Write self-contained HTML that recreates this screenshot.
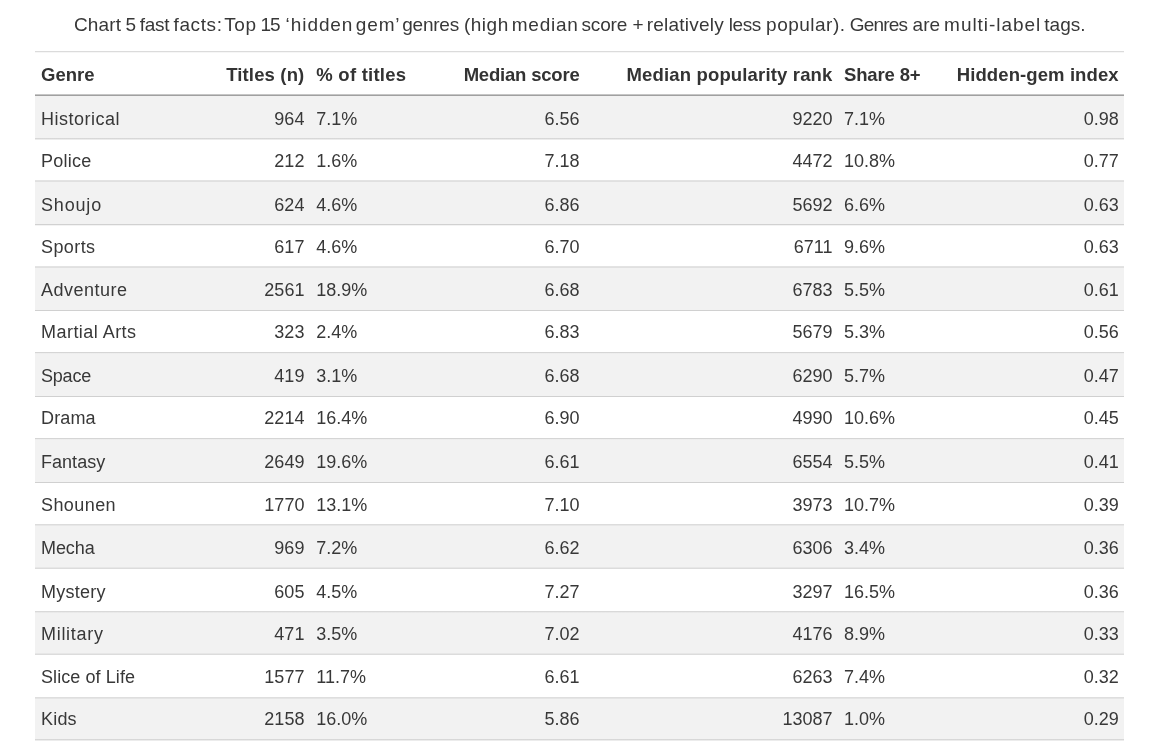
<!DOCTYPE html>
<html lang="en">
<head>
<meta charset="utf-8">
<title>Chart 5 fast facts</title>
<style>
html,body{margin:0;padding:0;background:#fff;}
body{width:1152px;height:756px;position:relative;overflow:hidden;font-family:"Liberation Sans",sans-serif;color:#383838;}
.cap{will-change:transform;position:absolute;left:0;top:13px;width:1152px;height:24px;font-size:19px;line-height:24px;white-space:nowrap;}
.cap span{position:absolute;top:0;}
.tbl{will-change:transform;position:absolute;left:35px;top:51px;width:1089px;height:700px;font-size:18px;}
.hr,.tr{display:flex;box-sizing:border-box;white-space:nowrap;}
.hr{color:#333;height:45px;border-top:1px solid #dbdbdb;border-bottom:1px solid #a0a0a0;box-shadow:inset 0 1px 0 #f6f6f6,inset 0 -1px 0 #c6c6c6;font-weight:bold;font-size:18.5px;line-height:41px;padding-top:2.1px;}
.tr{position:absolute;left:0;width:1089px;height:24px;line-height:24px;}
.sp{position:absolute;left:0;width:1089px;background:#f2f2f2;}
.bd{position:absolute;left:0;width:1089px;height:2px;}
.c{box-sizing:border-box;flex:none;overflow:visible;}
.c1{width:180px;padding-left:6px;}
.c2{width:95px;padding-right:5.6px;}
.c3{width:140px;padding-left:6.3px;}
.c4{width:135px;padding-right:5.5px;}
.c5{width:253px;padding-right:5.5px;}
.c6{width:107px;padding-left:6px;}
.c7{width:179px;padding-right:5.3px;}
.l{text-align:left}.r{text-align:right}
.hr .c2 span{letter-spacing:0.15px}
.hr .c3 span{letter-spacing:0.24px}
.hr .c4 span{letter-spacing:-0.2px}
.hr .c5 span{letter-spacing:0.16px}
.hr .c6 span{letter-spacing:-0.15px}
.hr .c7 span{letter-spacing:0.1px}

</style>
</head>
<body>
<div class="cap"><span style="left:74.0px;letter-spacing:0.133px">Chart</span> <span style="left:125.45px;letter-spacing:0.0px">5</span> <span style="left:139.69px;letter-spacing:-0.277px">fast</span> <span style="left:173.54px;letter-spacing:0.599px">facts:</span> <span style="left:224.22px;letter-spacing:0.559px">Top</span> <span style="left:260.47px;letter-spacing:-0.966px">15</span> <span style="left:285.61px;letter-spacing:0.923px">‘hidden</span> <span style="left:355.87px;letter-spacing:0.834px">gem’</span> <span style="left:402.22px;letter-spacing:-0.234px">genres</span> <span style="left:463.95px;letter-spacing:0.511px">(high</span> <span style="left:511.71px;letter-spacing:0.765px">median</span> <span style="left:581.47px;letter-spacing:-0.158px">score</span> <span style="left:632.42px;letter-spacing:0.0px">+</span> <span style="left:646.65px;letter-spacing:0.23px">relatively</span> <span style="left:728.82px;letter-spacing:-0.438px">less</span> <span style="left:766.08px;letter-spacing:0.494px">popular).</span> <span style="left:849.7px;letter-spacing:-0.788px">Genres</span> <span style="left:912.6px;letter-spacing:-0.022px">are</span> <span style="left:944.12px;letter-spacing:0.945px">multi-label</span> <span style="left:1044.3px;letter-spacing:0.0px">tags.</span></div>
<div class="tbl" role="table">
<div class="hr" role="row"><div role="columnheader" class="c c1 l"><span>Genre</span></div><div role="columnheader" class="c c2 r"><span>Titles (n)</span></div><div role="columnheader" class="c c3 l"><span>% of titles</span></div><div role="columnheader" class="c c4 r"><span>Median score</span></div><div role="columnheader" class="c c5 r"><span>Median popularity rank</span></div><div role="columnheader" class="c c6 l"><span>Share 8+</span></div><div role="columnheader" class="c c7 r"><span>Hidden-gem index</span></div></div>
<div class="sp" style="top:45px;height:43px"></div>
<div class="sp" style="top:130px;height:44px"></div>
<div class="sp" style="top:216px;height:43px"></div>
<div class="sp" style="top:302px;height:43px"></div>
<div class="sp" style="top:388px;height:43px"></div>
<div class="sp" style="top:474px;height:43px"></div>
<div class="sp" style="top:561px;height:42px"></div>
<div class="sp" style="top:647px;height:42px"></div>
<div class="bd" style="top:87px;background:linear-gradient(rgba(0,0,0,0.111) 50%,rgba(0,0,0,0.074) 50%)"></div>
<div class="bd" style="top:129px;background:linear-gradient(rgba(0,0,0,0.111) 50%,rgba(0,0,0,0.074) 50%)"></div>
<div class="bd" style="top:173px;background:linear-gradient(rgba(0,0,0,0.139) 50%,rgba(0,0,0,0.046) 50%)"></div>
<div class="bd" style="top:215px;background:linear-gradient(rgba(0,0,0,0.111) 50%,rgba(0,0,0,0.074) 50%)"></div>
<div class="bd" style="top:259px;background:linear-gradient(rgba(0,0,0,0.185) 50%,rgba(0,0,0,0.0) 50%)"></div>
<div class="bd" style="top:301px;background:linear-gradient(rgba(0,0,0,0.166) 50%,rgba(0,0,0,0.019) 50%)"></div>
<div class="bd" style="top:345px;background:linear-gradient(rgba(0,0,0,0.185) 50%,rgba(0,0,0,0.0) 50%)"></div>
<div class="bd" style="top:387px;background:linear-gradient(rgba(0,0,0,0.166) 50%,rgba(0,0,0,0.019) 50%)"></div>
<div class="bd" style="top:431px;background:linear-gradient(rgba(0,0,0,0.185) 50%,rgba(0,0,0,0.0) 50%)"></div>
<div class="bd" style="top:473px;background:linear-gradient(rgba(0,0,0,0.139) 50%,rgba(0,0,0,0.046) 50%)"></div>
<div class="bd" style="top:516px;background:linear-gradient(rgba(0,0,0,0.046) 50%,rgba(0,0,0,0.139) 50%)"></div>
<div class="bd" style="top:560px;background:linear-gradient(rgba(0,0,0,0.148) 50%,rgba(0,0,0,0.037) 50%)"></div>
<div class="bd" style="top:602px;background:linear-gradient(rgba(0,0,0,0.046) 50%,rgba(0,0,0,0.139) 50%)"></div>
<div class="bd" style="top:646px;background:linear-gradient(rgba(0,0,0,0.13) 50%,rgba(0,0,0,0.055) 50%)"></div>
<div class="bd" style="top:688px;background:linear-gradient(rgba(0,0,0,0.111) 50%,rgba(0,0,0,0.074) 50%)"></div>
<div class="tr" role="row" style="top:56px"><div role="cell" class="c c1 l" style="letter-spacing:0.5px">Historical</div><div role="cell" class="c c2 r">964</div><div role="cell" class="c c3 l">7.1%</div><div role="cell" class="c c4 r">6.56</div><div role="cell" class="c c5 r">9220</div><div role="cell" class="c c6 l">7.1%</div><div role="cell" class="c c7 r">0.98</div></div>
<div class="tr" role="row" style="top:98px"><div role="cell" class="c c1 l" style="letter-spacing:0.26px">Police</div><div role="cell" class="c c2 r">212</div><div role="cell" class="c c3 l">1.6%</div><div role="cell" class="c c4 r">7.18</div><div role="cell" class="c c5 r">4472</div><div role="cell" class="c c6 l">10.8%</div><div role="cell" class="c c7 r">0.77</div></div>
<div class="tr" role="row" style="top:142px"><div role="cell" class="c c1 l" style="letter-spacing:0.82px">Shoujo</div><div role="cell" class="c c2 r">624</div><div role="cell" class="c c3 l">4.6%</div><div role="cell" class="c c4 r">6.86</div><div role="cell" class="c c5 r">5692</div><div role="cell" class="c c6 l">6.6%</div><div role="cell" class="c c7 r">0.63</div></div>
<div class="tr" role="row" style="top:184px"><div role="cell" class="c c1 l" style="letter-spacing:0.42px">Sports</div><div role="cell" class="c c2 r">617</div><div role="cell" class="c c3 l">4.6%</div><div role="cell" class="c c4 r">6.70</div><div role="cell" class="c c5 r">6711</div><div role="cell" class="c c6 l">9.6%</div><div role="cell" class="c c7 r">0.63</div></div>
<div class="tr" role="row" style="top:227px"><div role="cell" class="c c1 l" style="letter-spacing:0.5px">Adventure</div><div role="cell" class="c c2 r">2561</div><div role="cell" class="c c3 l">18.9%</div><div role="cell" class="c c4 r">6.68</div><div role="cell" class="c c5 r">6783</div><div role="cell" class="c c6 l">5.5%</div><div role="cell" class="c c7 r">0.61</div></div>
<div class="tr" role="row" style="top:269px"><div role="cell" class="c c1 l" style="letter-spacing:0.46px">Martial Arts</div><div role="cell" class="c c2 r">323</div><div role="cell" class="c c3 l">2.4%</div><div role="cell" class="c c4 r">6.83</div><div role="cell" class="c c5 r">5679</div><div role="cell" class="c c6 l">5.3%</div><div role="cell" class="c c7 r">0.56</div></div>
<div class="tr" role="row" style="top:313px"><div role="cell" class="c c1 l" style="letter-spacing:-0.2px">Space</div><div role="cell" class="c c2 r">419</div><div role="cell" class="c c3 l">3.1%</div><div role="cell" class="c c4 r">6.68</div><div role="cell" class="c c5 r">6290</div><div role="cell" class="c c6 l">5.7%</div><div role="cell" class="c c7 r">0.47</div></div>
<div class="tr" role="row" style="top:355px"><div role="cell" class="c c1 l" style="letter-spacing:0.15px">Drama</div><div role="cell" class="c c2 r">2214</div><div role="cell" class="c c3 l">16.4%</div><div role="cell" class="c c4 r">6.90</div><div role="cell" class="c c5 r">4990</div><div role="cell" class="c c6 l">10.6%</div><div role="cell" class="c c7 r">0.45</div></div>
<div class="tr" role="row" style="top:399px"><div role="cell" class="c c1 l" style="letter-spacing:0.03px">Fantasy</div><div role="cell" class="c c2 r">2649</div><div role="cell" class="c c3 l">19.6%</div><div role="cell" class="c c4 r">6.61</div><div role="cell" class="c c5 r">6554</div><div role="cell" class="c c6 l">5.5%</div><div role="cell" class="c c7 r">0.41</div></div>
<div class="tr" role="row" style="top:442px"><div role="cell" class="c c1 l" style="letter-spacing:0.42px">Shounen</div><div role="cell" class="c c2 r">1770</div><div role="cell" class="c c3 l">13.1%</div><div role="cell" class="c c4 r">7.10</div><div role="cell" class="c c5 r">3973</div><div role="cell" class="c c6 l">10.7%</div><div role="cell" class="c c7 r">0.39</div></div>
<div class="tr" role="row" style="top:485px"><div role="cell" class="c c1 l" style="letter-spacing:-0.08px">Mecha</div><div role="cell" class="c c2 r">969</div><div role="cell" class="c c3 l">7.2%</div><div role="cell" class="c c4 r">6.62</div><div role="cell" class="c c5 r">6306</div><div role="cell" class="c c6 l">3.4%</div><div role="cell" class="c c7 r">0.36</div></div>
<div class="tr" role="row" style="top:529px"><div role="cell" class="c c1 l" style="letter-spacing:0.27px">Mystery</div><div role="cell" class="c c2 r">605</div><div role="cell" class="c c3 l">4.5%</div><div role="cell" class="c c4 r">7.27</div><div role="cell" class="c c5 r">3297</div><div role="cell" class="c c6 l">16.5%</div><div role="cell" class="c c7 r">0.36</div></div>
<div class="tr" role="row" style="top:571px"><div role="cell" class="c c1 l" style="letter-spacing:0.7px">Military</div><div role="cell" class="c c2 r">471</div><div role="cell" class="c c3 l">3.5%</div><div role="cell" class="c c4 r">7.02</div><div role="cell" class="c c5 r">4176</div><div role="cell" class="c c6 l">8.9%</div><div role="cell" class="c c7 r">0.33</div></div>
<div class="tr" role="row" style="top:614px"><div role="cell" class="c c1 l" style="letter-spacing:0.08px">Slice of Life</div><div role="cell" class="c c2 r">1577</div><div role="cell" class="c c3 l">11.7%</div><div role="cell" class="c c4 r">6.61</div><div role="cell" class="c c5 r">6263</div><div role="cell" class="c c6 l">7.4%</div><div role="cell" class="c c7 r">0.32</div></div>
<div class="tr" role="row" style="top:656px"><div role="cell" class="c c1 l" style="letter-spacing:0.2px">Kids</div><div role="cell" class="c c2 r">2158</div><div role="cell" class="c c3 l">16.0%</div><div role="cell" class="c c4 r">5.86</div><div role="cell" class="c c5 r">13087</div><div role="cell" class="c c6 l">1.0%</div><div role="cell" class="c c7 r">0.29</div></div>
</div>
</body>
</html>
